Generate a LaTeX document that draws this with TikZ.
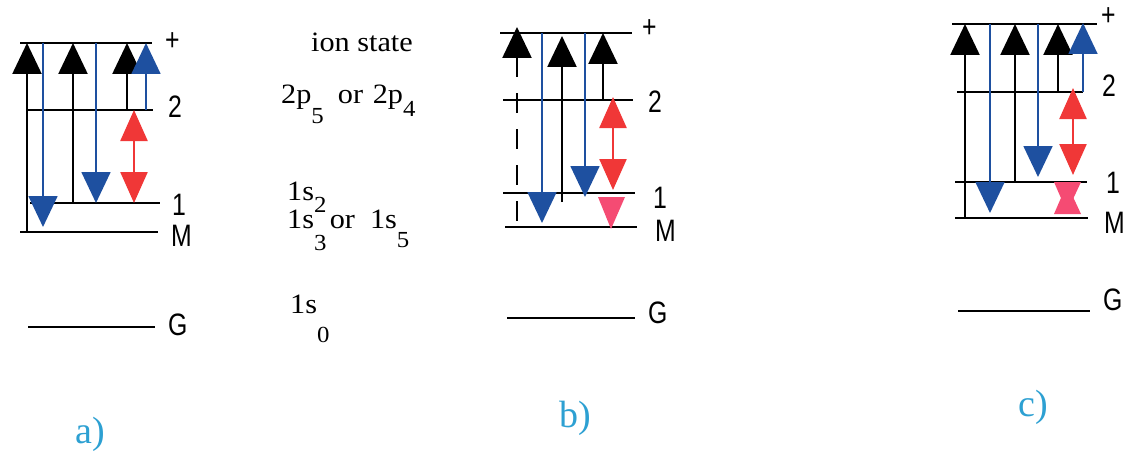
\documentclass[tikz,border=0pt]{standalone}
\usepackage{fontspec}
\setmainfont{Liberation Serif}
\newfontfamily\lvlfont{Liberation Sans}
\usetikzlibrary{arrows.meta}
\definecolor{lvblue}{RGB}{30,80,160}
\definecolor{lvred}{RGB}{240,55,55}
\definecolor{lvpink}{RGB}{245,75,115}
\definecolor{lvcyan}{RGB}{45,160,210}
\newcommand{\lowsub}[2]{\raisebox{-#1pt}{\fontsize{23}{23}\selectfont #2}}

\begin{document}
\begin{tikzpicture}[x=1pt, y=-1pt,
    level/.style={line width=2.4pt},
    upk/.style={line width=2.4pt, -{Triangle[width=29pt,length=31pt]}},
    blu/.style={line width=1.8pt, lvblue, -{Triangle[width=29pt,length=31pt]}},
    dbl/.style={line width=2.4pt, lvred, {Triangle[width=27pt,length=31pt]}-{Triangle[width=27pt,length=31pt]}},
    lvl/.style={font=\lvlfont\fontsize{31}{31}\selectfont, xscale=0.8, anchor=west, inner sep=0pt},
    term/.style={font=\fontsize{28}{30}\selectfont, xscale=1.08, anchor=base west, inner sep=0pt},
    tag/.style={font=\fontsize{38}{40}\selectfont, text=lvcyan, inner sep=0pt}]
  \useasboundingbox (0,0) rectangle (1125,452);

  % a)
  \draw[level] (20,43) coordinate (aP) -- (152,43);
  \draw[level] (27,110) coordinate (aTwo) -- (153,110);
  \draw[level] (30,203) coordinate (aOne) -- (160,203);
  \draw[level] (20,232) coordinate (aM) -- (158,232);
  \draw[level] (28,327) coordinate (aG) -- (155,327);
  \node[lvl] (aPl) at (165,42) {+};
  \node[lvl] (aTwol) at (168,107) {2};
  \node[lvl] (aOnel) at (172,205) {1};
  \node[lvl] (aMl) at (171,236) {M};
  \node[lvl] (aGl) at (168,325) {G};
  \draw[upk] (27,0 |- aM) -- (27,0 |- aP);
  \draw[blu] (43,0 |- aP) -- (43,227);
  \draw[upk] (73,0 |- aOne) -- (73,0 |- aP);
  \draw[blu] (96,0 |- aP) -- (96,0 |- aOne);
  \draw[upk] (127,0 |- aTwo) -- (127,0 |- aP);
  \draw[blu] (146,0 |- aTwo) -- (146,0 |- aP);
  \draw[dbl] (134,0 |- aOne) -- (134,0 |- aTwo);
  \node[tag] (aTag) at (90,434) {a)};

  % state names
  \node[term, anchor=base] (ion) at (362,52) {ion state};
  \node[term] (pTerm) at (281,103) {2p\lowsub{20}{5}\hspace{13pt}or\hspace{9pt}2p\lowsub{13}{4}};
  \node[term] (sTwo) at (287,200) {1s\lowsub{12}{2}};
  \node[term] (sThree) at (287,228) {1s\lowsub{22}{3}\hspace{3pt}or\hspace{14pt}1s\lowsub{19}{5}};
  \node[term] (sZero) at (290,313) {1s\lowsub{29}{0}};

  % b)
  \draw[level] (500,33) coordinate (bP) -- (632,33);
  \draw[level] (503,100) coordinate (bTwo) -- (633,100);
  \draw[level] (503,193) coordinate (bOne) -- (635,193);
  \draw[level] (505,227) coordinate (bM) -- (637,227);
  \draw[level] (507,318) coordinate (bG) -- (635,318);
  \node[lvl] (bPl) at (642,29) {+};
  \node[lvl] (bTwol) at (648,102) {2};
  \node[lvl] (bOnel) at (653,198) {1};
  \node[lvl] (bMl) at (655,231) {M};
  \node[lvl] (bGl) at (648,313) {G};
  \draw[line width=2.4pt, {Triangle[width=29pt,length=31pt]}-, dash pattern=on 20pt off 16pt] (517,27) -- (517,0 |- bM);
  \draw[blu] (542,0 |- bP) -- (542,223);
  \draw[upk] (562,202) -- (562,36);
  \draw[blu] (585,0 |- bP) -- (585,197);
  \draw[upk] (603,0 |- bTwo) -- (603,0 |- bP);
  \draw[dbl] (613,190) -- (613,97);
  \fill[lvpink] (598,197) -- (625,197) -- (611,229) -- cycle;
  \node[tag] (bTag) at (575,418) {b)};

  % c)
  \draw[level] (952,24) coordinate (cP) -- (1097,24);
  \draw[level] (957,92) coordinate (cTwo) -- (1083,92);
  \draw[level] (955,182) coordinate (cOne) -- (1087,182);
  \draw[level] (955,218) coordinate (cM) -- (1088,218);
  \draw[level] (958,311) coordinate (cG) -- (1090,311);
  \node[lvl] (cPl) at (1101,17) {+};
  \node[lvl] (cTwol) at (1102,86) {2};
  \node[lvl] (cOnel) at (1106,183) {1};
  \node[lvl] (cMl) at (1104,223) {M};
  \node[lvl] (cGl) at (1103,300) {G};
  \draw[upk] (965,0 |- cM) -- (965,0 |- cP);
  \draw[blu] (990,0 |- cP) -- (990,213);
  \draw[upk] (1015,0 |- cOne) -- (1015,0 |- cP);
  \draw[blu] (1038,0 |- cP) -- (1038,177);
  \draw[upk] (1058,0 |- cTwo) -- (1058,0 |- cP);
  \draw[blu] (1083,0 |- cTwo) -- (1083,23);
  \draw[dbl] (1073,175) -- (1073,88);
  \fill[lvpink] (1054,182) -- (1081,182) -- (1067,212) -- cycle;
  \fill[lvpink] (1054,214) -- (1081,214) -- (1067,184) -- cycle;
  \node[tag] (cTag) at (1033,407) {c)};
\end{tikzpicture}
\end{document}
